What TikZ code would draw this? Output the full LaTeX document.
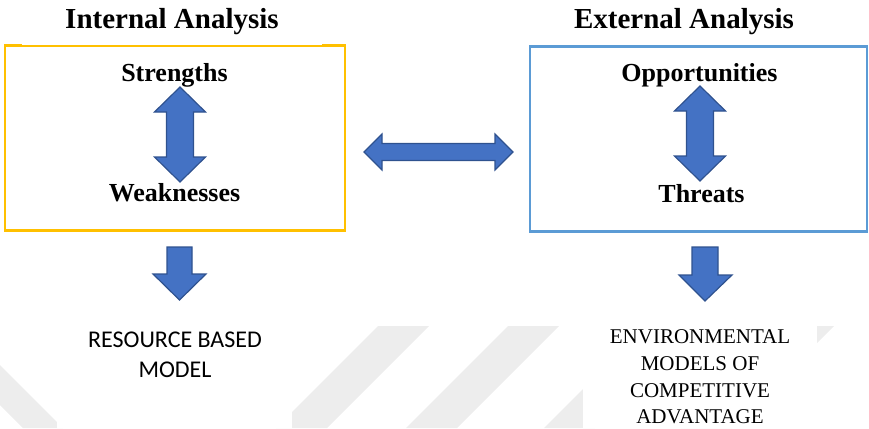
\documentclass[tikz,border=0pt]{standalone}
\usepackage{fontspec}
\setmainfont{Liberation Serif}
\newfontfamily\labelsans{Carlito}

\definecolor{arrowblue}{HTML}{4472C4}
\definecolor{arrowedge}{HTML}{2F528F}
\definecolor{boxgold}{HTML}{FFC000}
\definecolor{boxblue}{HTML}{5B9BD5}
\definecolor{markgrey}{HTML}{EDEDED}

% vertical two-headed block arrow: centre x, upper tip y, lower tip y
\newcommand\updownblock[3]{%
  \filldraw[blockarrow] (#1,#2) -- ++(25.5,25) -- ++(-12,0) -- (#1+13.5,#3-25)
    -- ++(12,0) -- (#1,#3) -- ++(-25.5,-25) -- ++(12,0) -- (#1-13.5,#2+25)
    -- ++(-12,0) -- cycle;}

\begin{document}
\begin{tikzpicture}[x=1pt,y=-1pt,
  heading/.style={font=\fontsize{29}{32}\selectfont\bfseries, inner sep=0pt, anchor=base},
  term/.style={font=\fontsize{26}{30}\selectfont\bfseries, inner sep=0pt, anchor=base},
  rbline/.style={font=\labelsans\fontsize{24}{30}\selectfont, inner sep=0pt, anchor=base},
  envline/.style={font=\fontsize{21}{27}\selectfont, inner sep=0pt, anchor=base},
  frame/.style={line width=2.2pt, inner sep=0pt, outer sep=0pt},
  blockarrow/.style={fill=arrowblue, draw=arrowedge, line width=1.2pt, line join=miter},
  band/.style={fill=markgrey}]

\useasboundingbox (0,0) rectangle (869,428);

% faint diagonal bands along the lower strip
\begin{scope}
  \clip (0,326) rectangle (869,428);
  \fill[band] (0,365) -- (63,428) -- (23,428) -- (0,405) -- cycle;
  \fill[band] (378,326) -- (429,326) -- (327,428) -- (276,428) -- cycle;
  \fill[band] (508,326) -- (559,326) -- (457,428) -- (406,428) -- cycle;
  \fill[band] (646,326) -- (697,326) -- (595,428) -- (544,428) -- cycle;
  \fill[band] (783,326) -- (834,326) -- (732,428) -- (681,428) -- cycle;
\end{scope}
% white panels behind the two captions
\fill[white] (57,325) rectangle (292,428);
\fill[white] (583,325) rectangle (817,428);

% analysis frames
\node[frame, draw=boxgold, minimum width=340pt, minimum height=185pt] (inbox) at (175,138) {};
\node[frame, draw=boxblue, minimum width=337pt, minimum height=185pt] (exbox) at (698.5,139) {};
% title panel slightly overlapping the gold frame
\fill[white] (22,0) rectangle (322,45.2);

% headings
\node[heading] (intT) at (172,28.5) {Internal Analysis};
\node[heading] (extT) at (684,28.5) {External Analysis};

% SWOT terms
\node[term] (str)  at (174.5,81.7)  {Strengths};
\node[term] (weak) at (174.5,201.7) {Weaknesses};
\node[term] (opp)  at (699.5,81.7)  {Opportunities};
\node[term] (thr)  at (701.5,202.5) {Threats};

% two-headed arrows inside the frames
\updownblock{180}{87}{182}
\updownblock{700}{86}{181}

% two-headed arrow between the frames
\filldraw[blockarrow] (364,152) -- (382,134) -- (382,143.5) -- (495,143.5)
  -- (495,134) -- (513,152) -- (495,170) -- (495,160.5) -- (382,160.5)
  -- (382,170) -- cycle;

% downward arrows to the models
\filldraw[blockarrow] (167,247) -- (192,247) -- (192,274) -- (206,274)
  -- (179.5,300) -- (153,274) -- (167,274) -- cycle;
\filldraw[blockarrow] (692,247) -- (718,247) -- (718,275) -- (732,275)
  -- (705,301) -- (679,275) -- (692,275) -- cycle;

% captions
\node[rbline] (rb1) at (175,347) {RESOURCE BASED};
\node[rbline] (rb2) at (175,377) {MODEL};
\node[envline] (env1) at (700,343) {ENVIRONMENTAL};
\node[envline] (env2) at (700,370) {MODELS OF};
\node[envline] (env3) at (700,397) {COMPETITIVE};
\node[envline] (env4) at (700,423) {ADVANTAGE};
\end{tikzpicture}
\end{document}
